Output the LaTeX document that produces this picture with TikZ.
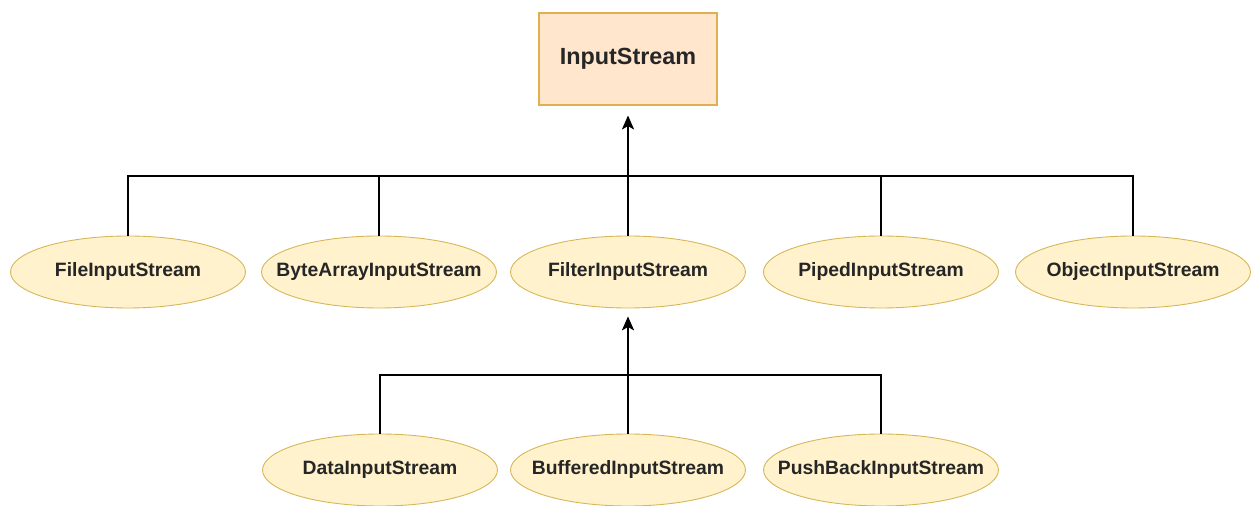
\documentclass[tikz,border=0pt]{standalone}
\usepackage{fontspec}
\setmainfont{Liberation Sans}
\usepackage{xcolor}
\usepackage{tikz}
\usetikzlibrary{arrows.meta}
\usetikzlibrary{shapes.geometric}

\definecolor{rootfill}{HTML}{FFE6CC}
\definecolor{rootdraw}{HTML}{E0B050}
\definecolor{ellfill}{HTML}{FFF2CC}
\definecolor{elldraw}{HTML}{D6B656}

\begin{document}
\begin{tikzpicture}[
    x=0.02cm, y=-0.02cm,
    line width=0.8pt,
    >={Stealth[length=8pt, width=7pt, inset=2pt]},
    rootbox/.style={rectangle, draw=rootdraw, fill=rootfill, line width=0.6pt, minimum height=1.84cm, minimum width=3.56cm, align=center, text=black!85, font=\fontsize{13.3}{16}\selectfont\bfseries},
    streamell/.style={ellipse, draw=elldraw, fill=ellfill, line width=0.5pt, minimum height=1.44cm, minimum width=4.7cm, inner xsep=-0.6cm, inner ysep=0pt, align=center, text=black!85, font=\fontsize{11}{13}\selectfont\bfseries}
  ]
  \useasboundingbox (0,0) rectangle (1252,506);

  % Nodes
  \node[rootbox] (inputStream) at (628,59) {InputStream};

  \node[streamell] (file) at (128,272) {FileInputStream};
  \node[streamell] (byteArray) at (379,272) {ByteArrayInputStream};
  \node[streamell] (filter) at (628,272) {FilterInputStream};
  \node[streamell] (piped) at (881,272) {PipedInputStream};
  \node[streamell] (object) at (1133,272) {ObjectInputStream};

  \node[streamell] (data) at (380,470) {DataInputStream};
  \node[streamell] (buffered) at (628,470) {BufferedInputStream};
  \node[streamell] (pushBack) at (881,470) {PushBackInputStream};

  \coordinate (bus1) at (628,176);
  \coordinate (bus2) at (628,375);

  % Edges
  \draw[->, shorten >=0.2cm] (filter.north) -- (inputStream.south);
  \draw (file.north) |- (bus1);
  \draw (byteArray.north) |- (bus1);
  \draw (piped.north) |- (bus1);
  \draw (object.north) |- (bus1);

  \draw[->, shorten >=0.16cm] (buffered.north) -- (filter.south);
  \draw (data.north) |- (bus2);
  \draw (pushBack.north) |- (bus2);

\end{tikzpicture}
\end{document}
